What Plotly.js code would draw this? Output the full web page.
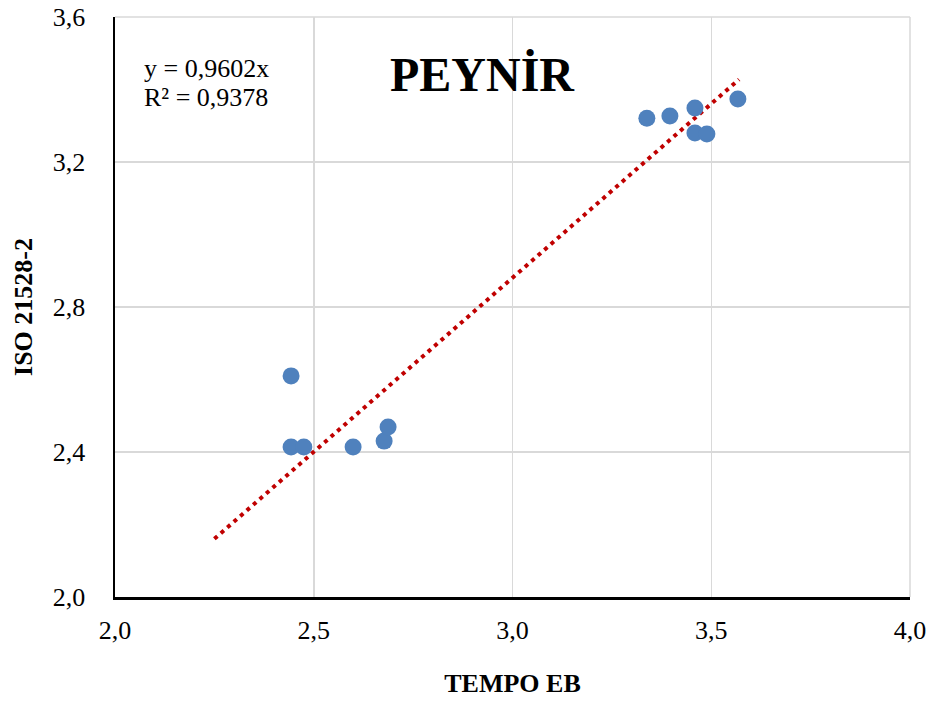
<!DOCTYPE html>
<html><head><meta charset="utf-8">
<script src="https://cdn.plot.ly/plotly-3.0.1.min.js"></script>
<style>html,body{margin:0;padding:0;background:#fff}</style>
</head><body><div id="chart" style="width:928px;height:702px"></div>
<script>
const tempoEB = [2.443, 2.443, 2.475, 2.599, 2.677, 2.687, 3.338, 3.396, 3.459, 3.459, 3.489, 3.567];
const iso21528 = [2.610, 2.414, 2.414, 2.414, 2.430, 2.469, 3.321, 3.327, 3.349, 3.280, 3.277, 3.374];
const slope = 0.9602;
const r2 = 0.9378;
const trendX = [2.25, 3.57];
const trendY = trendX.map(x => slope * x);
const xTicks = [2.0, 2.5, 3.0, 3.5, 4.0];
const yTicks = [2.0, 2.4, 2.8, 3.2, 3.6];

const serif = 'Times New Roman';
const fmt = v => v.toFixed(1).replace('.', ',');

const data = [
  {x: trendX, y: trendY, mode: 'lines', type: 'scatter',
   line: {color: '#c00000', width: 4, dash: '4px,4.6px'}, hoverinfo: 'skip'},
  {x: tempoEB, y: iso21528, mode: 'markers', type: 'scatter',
   marker: {color: '#4f81bd', size: 17, line: {width: 0}}}
];
const layout = {
  width: 928, height: 702,
  margin: {l: 115, r: 18, t: 17, b: 105},
  paper_bgcolor: '#fff', plot_bgcolor: '#fff',
  showlegend: false,
  font: {family: serif, color: '#000', size: 26},
  xaxis: {range: [2.0, 4.0], tickvals: xTicks, ticktext: xTicks.map(fmt),
    showgrid: true, gridcolor: '#d9d9d9', gridwidth: 1.5, zeroline: false,
    showline: true, linecolor: '#000', linewidth: 2.5, ticks: '', ticklen: 0,
    tickfont: {family: serif, size: 26, color: '#000'}, ticklabelstandoff: 8,
    title: {text: '<b>TEMPO EB</b>', font: {family: serif, size: 26}, standoff: 30}},
  yaxis: {range: [2.0, 3.6], tickvals: yTicks, ticktext: yTicks.map(fmt),
    showgrid: true, gridcolor: '#d9d9d9', gridwidth: 1.5, zeroline: false,
    showline: true, linecolor: '#000', linewidth: 2.5, ticks: '',
    tickfont: {family: serif, size: 26, color: '#000'}, ticklabelstandoff: 22,
    title: {text: '<b>ISO 21528-2</b>', font: {family: serif, size: 26}, standoff: 13}},
  shapes: [
    {type: 'line', xref: 'paper', yref: 'paper', x0: 1, x1: 1, y0: 0, y1: 1,
     line: {color: '#d9d9d9', width: 1.5}},
    {type: 'line', xref: 'paper', yref: 'paper', x0: 0, x1: 1, y0: 1, y1: 1,
     line: {color: '#d9d9d9', width: 1.5}}
  ],
  annotations: [
    {xref: 'paper', yref: 'paper', x: 0.462, y: 0.90, text: '<b>PEYNİR</b>',
     showarrow: false, font: {family: serif, size: 48, color: '#000'}, xanchor: 'center', yanchor: 'middle'},
    {xref: 'paper', yref: 'paper', x: 0.034, y: (597 - 68) / 580, align: 'left',
     text: 'y = ' + String(slope).replace('.', ',') + 'x',
     showarrow: false, font: {family: serif, size: 26, color: '#000'}, xanchor: 'left', yanchor: 'middle'},
    {xref: 'paper', yref: 'paper', x: 0.034, y: (597 - 97) / 580, align: 'left',
     text: 'R² = ' + String(r2).replace('.', ','),
     showarrow: false, font: {family: serif, size: 26, color: '#000'}, xanchor: 'left', yanchor: 'middle'}
  ]
};
Plotly.newPlot('chart', data, layout, {displayModeBar: false, staticPlot: true});
</script></body></html>
